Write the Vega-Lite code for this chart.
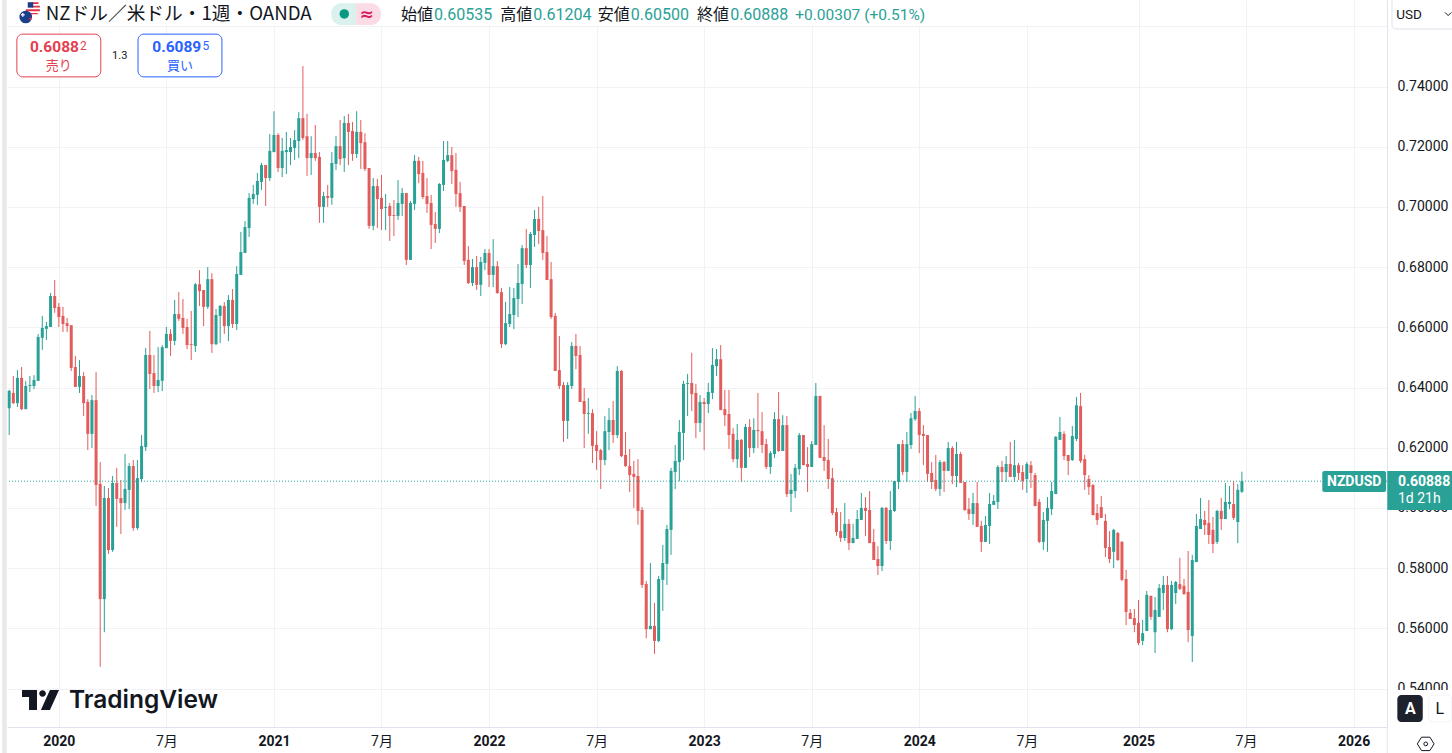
{
"$schema":"https://vega.github.io/schema/vega-lite/v6.json",
"width":1380,"height":727,
"autosize":{"type":"none"},
"padding":{"left":7,"top":0,"right":65,"bottom":26},
"background":"#ffffff",
"config":{"view":{"stroke":null},"text":{"font":"Roboto, Noto Sans CJK JP","baseline":"alphabetic"}},
"datasets":{"candles":[
{"date":"2019-10-14","open":0.6331,"high":0.6392,"low":0.6242,"close":0.6389},
{"date":"2019-10-21","open":0.6382,"high":0.6438,"low":0.6345,"close":0.6348},
{"date":"2019-10-28","open":0.6348,"high":0.6458,"low":0.6335,"close":0.6432},
{"date":"2019-11-04","open":0.6432,"high":0.6468,"low":0.6325,"close":0.6328},
{"date":"2019-11-11","open":0.6328,"high":0.6422,"low":0.6328,"close":0.6405},
{"date":"2019-11-18","open":0.6405,"high":0.6438,"low":0.6385,"close":0.6408},
{"date":"2019-11-25","open":0.6405,"high":0.6441,"low":0.6395,"close":0.6425},
{"date":"2019-12-02","open":0.6422,"high":0.6578,"low":0.6422,"close":0.6568},
{"date":"2019-12-09","open":0.6565,"high":0.6638,"low":0.6525,"close":0.6598},
{"date":"2019-12-16","open":0.6595,"high":0.6618,"low":0.6558,"close":0.6604},
{"date":"2019-12-23","open":0.6601,"high":0.6714,"low":0.6601,"close":0.6704},
{"date":"2019-12-30","open":0.6704,"high":0.6757,"low":0.6648,"close":0.6664},
{"date":"2020-01-06","open":0.6668,"high":0.6681,"low":0.6601,"close":0.6634},
{"date":"2020-01-13","open":0.6638,"high":0.6668,"low":0.6584,"close":0.6611},
{"date":"2020-01-20","open":0.6614,"high":0.6631,"low":0.6584,"close":0.6604},
{"date":"2020-01-27","open":0.6607,"high":0.6607,"low":0.6455,"close":0.6465},
{"date":"2020-02-03","open":0.6468,"high":0.6505,"low":0.6402,"close":0.6402},
{"date":"2020-02-10","open":0.6402,"high":0.6491,"low":0.6382,"close":0.6438},
{"date":"2020-02-17","open":0.6438,"high":0.6451,"low":0.6305,"close":0.6348},
{"date":"2020-02-24","open":0.6352,"high":0.6361,"low":0.6192,"close":0.6246},
{"date":"2020-03-02","open":0.6246,"high":0.6375,"low":0.6199,"close":0.6358},
{"date":"2020-03-09","open":0.6358,"high":0.6451,"low":0.6006,"close":0.6076},
{"date":"2020-03-16","open":0.608,"high":0.6152,"low":0.5472,"close":0.5697},
{"date":"2020-03-23","open":0.5697,"high":0.6073,"low":0.5587,"close":0.6033},
{"date":"2020-03-30","open":0.6033,"high":0.6066,"low":0.5847,"close":0.586},
{"date":"2020-04-06","open":0.586,"high":0.6106,"low":0.5854,"close":0.6083},
{"date":"2020-04-13","open":0.6083,"high":0.6133,"low":0.5937,"close":0.603},
{"date":"2020-04-20","open":0.6033,"high":0.6093,"low":0.5913,"close":0.6016},
{"date":"2020-04-27","open":0.6016,"high":0.6179,"low":0.5993,"close":0.6063},
{"date":"2020-05-04","open":0.606,"high":0.6149,"low":0.5996,"close":0.6139},
{"date":"2020-05-11","open":0.6139,"high":0.6159,"low":0.5924,"close":0.5933},
{"date":"2020-05-18","open":0.5933,"high":0.6159,"low":0.5927,"close":0.6099},
{"date":"2020-05-25","open":0.6096,"high":0.6242,"low":0.6086,"close":0.6206},
{"date":"2020-06-01","open":0.6202,"high":0.6531,"low":0.6189,"close":0.6508},
{"date":"2020-06-08","open":0.6508,"high":0.6588,"low":0.6395,"close":0.6445},
{"date":"2020-06-15","open":0.6448,"high":0.6508,"low":0.6382,"close":0.6405},
{"date":"2020-06-22","open":0.6405,"high":0.6534,"low":0.6385,"close":0.6425},
{"date":"2020-06-29","open":0.6422,"high":0.6541,"low":0.6388,"close":0.6534},
{"date":"2020-07-06","open":0.6531,"high":0.6601,"low":0.6531,"close":0.6578},
{"date":"2020-07-13","open":0.6578,"high":0.6594,"low":0.6505,"close":0.6555},
{"date":"2020-07-20","open":0.6555,"high":0.6691,"low":0.6541,"close":0.6644},
{"date":"2020-07-27","open":0.6644,"high":0.6717,"low":0.6621,"close":0.6628},
{"date":"2020-08-03","open":0.6631,"high":0.6694,"low":0.6578,"close":0.6598},
{"date":"2020-08-10","open":0.6601,"high":0.6628,"low":0.6528,"close":0.6541},
{"date":"2020-08-17","open":0.6544,"high":0.6654,"low":0.6491,"close":0.6541},
{"date":"2020-08-24","open":0.6538,"high":0.6747,"low":0.6518,"close":0.6743},
{"date":"2020-08-31","open":0.6743,"high":0.679,"low":0.6671,"close":0.672},
{"date":"2020-09-07","open":0.6724,"high":0.6724,"low":0.6604,"close":0.6668},
{"date":"2020-09-14","open":0.6668,"high":0.68,"low":0.6661,"close":0.676},
{"date":"2020-09-21","open":0.676,"high":0.678,"low":0.6515,"close":0.6544},
{"date":"2020-09-28","open":0.6544,"high":0.6661,"low":0.6541,"close":0.6641},
{"date":"2020-10-05","open":0.6638,"high":0.6674,"low":0.6548,"close":0.6671},
{"date":"2020-10-12","open":0.6671,"high":0.6684,"low":0.6578,"close":0.6604},
{"date":"2020-10-19","open":0.6604,"high":0.6707,"low":0.6554,"close":0.6691},
{"date":"2020-10-26","open":0.6691,"high":0.6727,"low":0.6598,"close":0.6611},
{"date":"2020-11-02","open":0.6611,"high":0.6803,"low":0.6591,"close":0.6777},
{"date":"2020-11-09","open":0.6774,"high":0.6917,"low":0.6774,"close":0.685},
{"date":"2020-11-16","open":0.6847,"high":0.6953,"low":0.6847,"close":0.6933},
{"date":"2020-11-23","open":0.693,"high":0.7046,"low":0.69,"close":0.703},
{"date":"2020-11-30","open":0.7026,"high":0.7073,"low":0.701,"close":0.7043},
{"date":"2020-12-07","open":0.704,"high":0.7113,"low":0.7007,"close":0.7086},
{"date":"2020-12-14","open":0.7083,"high":0.7146,"low":0.7056,"close":0.7139},
{"date":"2020-12-21","open":0.7139,"high":0.7139,"low":0.7003,"close":0.7096},
{"date":"2020-12-28","open":0.7096,"high":0.7242,"low":0.7086,"close":0.7186},
{"date":"2021-01-04","open":0.7182,"high":0.7318,"low":0.7182,"close":0.7239},
{"date":"2021-01-11","open":0.7239,"high":0.7245,"low":0.7116,"close":0.7129},
{"date":"2021-01-18","open":0.7129,"high":0.7229,"low":0.7099,"close":0.7186},
{"date":"2021-01-25","open":0.7182,"high":0.7249,"low":0.7109,"close":0.7189},
{"date":"2021-02-01","open":0.7182,"high":0.7229,"low":0.7139,"close":0.7199},
{"date":"2021-02-08","open":0.7196,"high":0.7255,"low":0.7156,"close":0.7222},
{"date":"2021-02-15","open":0.7219,"high":0.7315,"low":0.7162,"close":0.7295},
{"date":"2021-02-22","open":0.7295,"high":0.7468,"low":0.7222,"close":0.7229},
{"date":"2021-03-01","open":0.7235,"high":0.7309,"low":0.7103,"close":0.7162},
{"date":"2021-03-08","open":0.7162,"high":0.7235,"low":0.7106,"close":0.7179},
{"date":"2021-03-15","open":0.7179,"high":0.7272,"low":0.7153,"close":0.7162},
{"date":"2021-03-22","open":0.7166,"high":0.7182,"low":0.6947,"close":0.7},
{"date":"2021-03-29","open":0.7,"high":0.705,"low":0.6947,"close":0.7036},
{"date":"2021-04-05","open":0.7036,"high":0.7073,"low":0.7,"close":0.703},
{"date":"2021-04-12","open":0.703,"high":0.7182,"low":0.7007,"close":0.7146},
{"date":"2021-04-19","open":0.7143,"high":0.7235,"low":0.7123,"close":0.7202},
{"date":"2021-04-26","open":0.7202,"high":0.7289,"low":0.7139,"close":0.7159},
{"date":"2021-05-03","open":0.7162,"high":0.7302,"low":0.7116,"close":0.7279},
{"date":"2021-05-10","open":0.7279,"high":0.7309,"low":0.7139,"close":0.7249},
{"date":"2021-05-17","open":0.7252,"high":0.7282,"low":0.7153,"close":0.7176},
{"date":"2021-05-24","open":0.7176,"high":0.7318,"low":0.7162,"close":0.7249},
{"date":"2021-05-31","open":0.7249,"high":0.7289,"low":0.7126,"close":0.7212},
{"date":"2021-06-07","open":0.7215,"high":0.7245,"low":0.7119,"close":0.7126},
{"date":"2021-06-14","open":0.7129,"high":0.7129,"low":0.6927,"close":0.6937},
{"date":"2021-06-21","open":0.6937,"high":0.7096,"low":0.6923,"close":0.7069},
{"date":"2021-06-28","open":0.7069,"high":0.7093,"low":0.693,"close":0.7026},
{"date":"2021-07-05","open":0.703,"high":0.7106,"low":0.6923,"close":0.6993},
{"date":"2021-07-12","open":0.6997,"high":0.7043,"low":0.6923,"close":0.7},
{"date":"2021-07-19","open":0.7003,"high":0.7013,"low":0.6887,"close":0.697},
{"date":"2021-07-26","open":0.6973,"high":0.7023,"low":0.6903,"close":0.697},
{"date":"2021-08-02","open":0.697,"high":0.7089,"low":0.6957,"close":0.7013},
{"date":"2021-08-09","open":0.701,"high":0.7063,"low":0.697,"close":0.7046},
{"date":"2021-08-16","open":0.7046,"high":0.7046,"low":0.6807,"close":0.6824},
{"date":"2021-08-23","open":0.6824,"high":0.702,"low":0.6824,"close":0.7013},
{"date":"2021-08-30","open":0.701,"high":0.7172,"low":0.699,"close":0.7153},
{"date":"2021-09-06","open":0.7153,"high":0.7166,"low":0.7079,"close":0.7109},
{"date":"2021-09-13","open":0.7113,"high":0.7153,"low":0.7026,"close":0.7033},
{"date":"2021-09-20","open":0.7036,"high":0.7096,"low":0.698,"close":0.701},
{"date":"2021-09-27","open":0.7013,"high":0.704,"low":0.686,"close":0.694},
{"date":"2021-10-04","open":0.6943,"high":0.6983,"low":0.688,"close":0.6927},
{"date":"2021-10-11","open":0.6927,"high":0.7079,"low":0.6913,"close":0.7076},
{"date":"2021-10-18","open":0.7073,"high":0.7219,"low":0.7053,"close":0.7156},
{"date":"2021-10-25","open":0.7153,"high":0.7219,"low":0.7149,"close":0.7172},
{"date":"2021-11-01","open":0.7172,"high":0.7199,"low":0.7076,"close":0.7119},
{"date":"2021-11-08","open":0.7123,"high":0.7179,"low":0.7,"close":0.7043},
{"date":"2021-11-15","open":0.7046,"high":0.7083,"low":0.6983,"close":0.7},
{"date":"2021-11-22","open":0.7003,"high":0.7003,"low":0.6807,"close":0.682},
{"date":"2021-11-29","open":0.6824,"high":0.687,"low":0.6744,"close":0.6747},
{"date":"2021-12-06","open":0.6747,"high":0.6827,"low":0.6737,"close":0.68},
{"date":"2021-12-13","open":0.68,"high":0.6837,"low":0.6724,"close":0.6741},
{"date":"2021-12-20","open":0.6741,"high":0.6834,"low":0.6704,"close":0.6817},
{"date":"2021-12-27","open":0.6814,"high":0.686,"low":0.679,"close":0.6847},
{"date":"2022-01-03","open":0.6847,"high":0.686,"low":0.6734,"close":0.6774},
{"date":"2022-01-10","open":0.6774,"high":0.6893,"low":0.6734,"close":0.6803},
{"date":"2022-01-17","open":0.6803,"high":0.682,"low":0.6711,"close":0.6714},
{"date":"2022-01-24","open":0.6717,"high":0.6731,"low":0.6531,"close":0.6544},
{"date":"2022-01-31","open":0.6544,"high":0.6684,"low":0.6541,"close":0.6614},
{"date":"2022-02-07","open":0.6611,"high":0.6734,"low":0.6601,"close":0.6644},
{"date":"2022-02-14","open":0.6641,"high":0.6731,"low":0.6594,"close":0.6697},
{"date":"2022-02-21","open":0.6694,"high":0.681,"low":0.6634,"close":0.6747},
{"date":"2022-02-28","open":0.6744,"high":0.6873,"low":0.6677,"close":0.6863},
{"date":"2022-03-07","open":0.6863,"high":0.6927,"low":0.6797,"close":0.6807},
{"date":"2022-03-14","open":0.6807,"high":0.6917,"low":0.6731,"close":0.691},
{"date":"2022-03-21","open":0.6907,"high":0.699,"low":0.6867,"close":0.696},
{"date":"2022-03-28","open":0.696,"high":0.7,"low":0.6877,"close":0.692},
{"date":"2022-04-04","open":0.6923,"high":0.7036,"low":0.6824,"close":0.6847},
{"date":"2022-04-11","open":0.685,"high":0.6903,"low":0.6757,"close":0.6757},
{"date":"2022-04-18","open":0.676,"high":0.6817,"low":0.6628,"close":0.6634},
{"date":"2022-04-25","open":0.6638,"high":0.6648,"low":0.6455,"close":0.6455},
{"date":"2022-05-02","open":0.6458,"high":0.6571,"low":0.6395,"close":0.6405},
{"date":"2022-05-09","open":0.6408,"high":0.6418,"low":0.6219,"close":0.6289},
{"date":"2022-05-16","open":0.6289,"high":0.6418,"low":0.6229,"close":0.6408},
{"date":"2022-05-23","open":0.6405,"high":0.6551,"low":0.6395,"close":0.6538},
{"date":"2022-05-30","open":0.6538,"high":0.6578,"low":0.6461,"close":0.6505},
{"date":"2022-06-06","open":0.6508,"high":0.6538,"low":0.6352,"close":0.6352},
{"date":"2022-06-13","open":0.6355,"high":0.6398,"low":0.6199,"close":0.6312},
{"date":"2022-06-20","open":0.6312,"high":0.6365,"low":0.6246,"close":0.6315},
{"date":"2022-06-27","open":0.6315,"high":0.6328,"low":0.6149,"close":0.6206},
{"date":"2022-07-04","open":0.6209,"high":0.6255,"low":0.6126,"close":0.6189},
{"date":"2022-07-11","open":0.6192,"high":0.6196,"low":0.6063,"close":0.6159},
{"date":"2022-07-18","open":0.6159,"high":0.6305,"low":0.6142,"close":0.6255},
{"date":"2022-07-25","open":0.6252,"high":0.6332,"low":0.6192,"close":0.6292},
{"date":"2022-08-01","open":0.6292,"high":0.6355,"low":0.6216,"close":0.6242},
{"date":"2022-08-08","open":0.6242,"high":0.6471,"low":0.6232,"close":0.6455},
{"date":"2022-08-15","open":0.6455,"high":0.6458,"low":0.6169,"close":0.6172},
{"date":"2022-08-22","open":0.6176,"high":0.6252,"low":0.6136,"close":0.6139},
{"date":"2022-08-29","open":0.6139,"high":0.6196,"low":0.6053,"close":0.6109},
{"date":"2022-09-05","open":0.6113,"high":0.6156,"low":0.6,"close":0.6103},
{"date":"2022-09-12","open":0.6106,"high":0.6162,"low":0.5944,"close":0.599},
{"date":"2022-09-19","open":0.5993,"high":0.6003,"low":0.5734,"close":0.5744},
{"date":"2022-09-26","open":0.5747,"high":0.5757,"low":0.5567,"close":0.5597},
{"date":"2022-10-03","open":0.5597,"high":0.5817,"low":0.5597,"close":0.5608},
{"date":"2022-10-10","open":0.5608,"high":0.5684,"low":0.5515,"close":0.5558},
{"date":"2022-10-17","open":0.5558,"high":0.5774,"low":0.5554,"close":0.5764},
{"date":"2022-10-24","open":0.5761,"high":0.5877,"low":0.5658,"close":0.5817},
{"date":"2022-10-31","open":0.5814,"high":0.5943,"low":0.5744,"close":0.593},
{"date":"2022-11-07","open":0.5927,"high":0.6133,"low":0.5844,"close":0.6123},
{"date":"2022-11-14","open":0.6119,"high":0.6209,"low":0.6063,"close":0.6156},
{"date":"2022-11-21","open":0.6152,"high":0.6292,"low":0.6089,"close":0.6252},
{"date":"2022-11-28","open":0.6249,"high":0.6422,"low":0.6159,"close":0.6412},
{"date":"2022-12-05","open":0.6412,"high":0.6445,"low":0.6305,"close":0.6415},
{"date":"2022-12-12","open":0.6415,"high":0.6515,"low":0.6322,"close":0.6378},
{"date":"2022-12-19","open":0.6382,"high":0.6412,"low":0.6232,"close":0.6282},
{"date":"2022-12-26","open":0.6282,"high":0.6375,"low":0.6252,"close":0.6352},
{"date":"2023-01-02","open":0.6352,"high":0.6365,"low":0.6192,"close":0.6345},
{"date":"2023-01-09","open":0.6345,"high":0.6415,"low":0.6315,"close":0.6385},
{"date":"2023-01-16","open":0.6382,"high":0.6531,"low":0.6361,"close":0.6475},
{"date":"2023-01-23","open":0.6471,"high":0.6528,"low":0.6438,"close":0.6494},
{"date":"2023-01-30","open":0.6494,"high":0.6541,"low":0.6325,"close":0.6325},
{"date":"2023-02-06","open":0.6328,"high":0.6392,"low":0.6272,"close":0.6308},
{"date":"2023-02-13","open":0.6312,"high":0.6392,"low":0.6196,"close":0.6242},
{"date":"2023-02-20","open":0.6246,"high":0.6265,"low":0.6152,"close":0.6162},
{"date":"2023-02-27","open":0.6162,"high":0.6279,"low":0.6133,"close":0.6226},
{"date":"2023-03-06","open":0.6226,"high":0.6229,"low":0.6086,"close":0.6133},
{"date":"2023-03-13","open":0.6133,"high":0.6279,"low":0.6133,"close":0.6269},
{"date":"2023-03-20","open":0.6269,"high":0.6295,"low":0.6169,"close":0.6199},
{"date":"2023-03-27","open":0.6199,"high":0.6298,"low":0.6182,"close":0.6259},
{"date":"2023-04-03","open":0.6259,"high":0.6382,"low":0.6199,"close":0.6255},
{"date":"2023-04-10","open":0.6255,"high":0.6318,"low":0.6182,"close":0.6209},
{"date":"2023-04-17","open":0.6212,"high":0.6229,"low":0.6129,"close":0.6136},
{"date":"2023-04-24","open":0.6136,"high":0.6189,"low":0.6113,"close":0.6182},
{"date":"2023-05-01","open":0.6179,"high":0.6318,"low":0.6166,"close":0.6295},
{"date":"2023-05-08","open":0.6295,"high":0.6385,"low":0.6186,"close":0.6189},
{"date":"2023-05-15","open":0.6189,"high":0.6308,"low":0.6189,"close":0.6275},
{"date":"2023-05-22","open":0.6275,"high":0.6305,"low":0.6036,"close":0.6046},
{"date":"2023-05-29","open":0.6046,"high":0.6113,"low":0.5986,"close":0.606},
{"date":"2023-06-05","open":0.6056,"high":0.6146,"low":0.6033,"close":0.6133},
{"date":"2023-06-12","open":0.6129,"high":0.6249,"low":0.6109,"close":0.6242},
{"date":"2023-06-19","open":0.6242,"high":0.6242,"low":0.6142,"close":0.6142},
{"date":"2023-06-26","open":0.6146,"high":0.6202,"low":0.6053,"close":0.6136},
{"date":"2023-07-03","open":0.6136,"high":0.6222,"low":0.6136,"close":0.6212},
{"date":"2023-07-10","open":0.6209,"high":0.6415,"low":0.6209,"close":0.6372},
{"date":"2023-07-17","open":0.6372,"high":0.6372,"low":0.6166,"close":0.6166},
{"date":"2023-07-24","open":0.6169,"high":0.6275,"low":0.6123,"close":0.6156},
{"date":"2023-07-31","open":0.6159,"high":0.6229,"low":0.6063,"close":0.6096},
{"date":"2023-08-07","open":0.6099,"high":0.6133,"low":0.5976,"close":0.5983},
{"date":"2023-08-14","open":0.5986,"high":0.6,"low":0.5907,"close":0.592},
{"date":"2023-08-21","open":0.5923,"high":0.5986,"low":0.5887,"close":0.59},
{"date":"2023-08-28","open":0.59,"high":0.6016,"low":0.589,"close":0.5947},
{"date":"2023-09-04","open":0.5947,"high":0.5963,"low":0.586,"close":0.5883},
{"date":"2023-09-11","open":0.5883,"high":0.5947,"low":0.5883,"close":0.59},
{"date":"2023-09-18","open":0.5897,"high":0.5993,"low":0.5897,"close":0.5963},
{"date":"2023-09-25","open":0.596,"high":0.605,"low":0.596,"close":0.6},
{"date":"2023-10-02","open":0.6,"high":0.6036,"low":0.5907,"close":0.599},
{"date":"2023-10-09","open":0.5993,"high":0.6056,"low":0.5883,"close":0.5883},
{"date":"2023-10-16","open":0.5887,"high":0.593,"low":0.5827,"close":0.5827},
{"date":"2023-10-23","open":0.583,"high":0.5873,"low":0.5777,"close":0.5807},
{"date":"2023-10-30","open":0.5807,"high":0.6003,"low":0.579,"close":0.6},
{"date":"2023-11-06","open":0.6,"high":0.6003,"low":0.588,"close":0.589},
{"date":"2023-11-13","open":0.589,"high":0.6056,"low":0.586,"close":0.5993},
{"date":"2023-11-20","open":0.599,"high":0.6089,"low":0.5986,"close":0.6089},
{"date":"2023-11-27","open":0.6086,"high":0.6212,"low":0.6063,"close":0.6212},
{"date":"2023-12-04","open":0.6212,"high":0.6226,"low":0.6109,"close":0.6119},
{"date":"2023-12-11","open":0.6119,"high":0.6252,"low":0.6086,"close":0.6212},
{"date":"2023-12-18","open":0.6209,"high":0.6315,"low":0.6196,"close":0.6298},
{"date":"2023-12-25","open":0.6295,"high":0.6372,"low":0.6289,"close":0.6322},
{"date":"2024-01-01","open":0.6322,"high":0.6332,"low":0.6182,"close":0.6242},
{"date":"2024-01-08","open":0.6246,"high":0.6275,"low":0.6142,"close":0.6239},
{"date":"2024-01-15","open":0.6242,"high":0.6242,"low":0.6086,"close":0.6113},
{"date":"2024-01-22","open":0.6116,"high":0.6152,"low":0.6063,"close":0.6086},
{"date":"2024-01-29","open":0.6093,"high":0.6176,"low":0.6056,"close":0.6063},
{"date":"2024-02-05","open":0.6063,"high":0.6159,"low":0.604,"close":0.6152},
{"date":"2024-02-12","open":0.6152,"high":0.6156,"low":0.6053,"close":0.6123},
{"date":"2024-02-19","open":0.6123,"high":0.6219,"low":0.6123,"close":0.6199},
{"date":"2024-02-26","open":0.6199,"high":0.6205,"low":0.6079,"close":0.6106},
{"date":"2024-03-04","open":0.6106,"high":0.6219,"low":0.6069,"close":0.6179},
{"date":"2024-03-11","open":0.6179,"high":0.6186,"low":0.6083,"close":0.6083},
{"date":"2024-03-18","open":0.6086,"high":0.6086,"low":0.599,"close":0.5993},
{"date":"2024-03-25","open":0.5996,"high":0.6033,"low":0.596,"close":0.598},
{"date":"2024-04-01","open":0.598,"high":0.605,"low":0.5943,"close":0.6016},
{"date":"2024-04-08","open":0.6016,"high":0.6086,"low":0.5937,"close":0.5937},
{"date":"2024-04-15","open":0.594,"high":0.5957,"low":0.5854,"close":0.5887},
{"date":"2024-04-22","open":0.5887,"high":0.5973,"low":0.5887,"close":0.5943},
{"date":"2024-04-29","open":0.594,"high":0.605,"low":0.588,"close":0.6013},
{"date":"2024-05-06","open":0.601,"high":0.6043,"low":0.601,"close":0.6023},
{"date":"2024-05-13","open":0.602,"high":0.6142,"low":0.5996,"close":0.6136},
{"date":"2024-05-20","open":0.6136,"high":0.6156,"low":0.6086,"close":0.6119},
{"date":"2024-05-27","open":0.6119,"high":0.6172,"low":0.6086,"close":0.6146},
{"date":"2024-06-03","open":0.6146,"high":0.6219,"low":0.6103,"close":0.6103},
{"date":"2024-06-10","open":0.6103,"high":0.6226,"low":0.6086,"close":0.6142},
{"date":"2024-06-17","open":0.6142,"high":0.6149,"low":0.6093,"close":0.6116},
{"date":"2024-06-24","open":0.6119,"high":0.6142,"low":0.606,"close":0.6089},
{"date":"2024-07-01","open":0.6096,"high":0.6152,"low":0.605,"close":0.6146},
{"date":"2024-07-08","open":0.6142,"high":0.6156,"low":0.6066,"close":0.6116},
{"date":"2024-07-15","open":0.6109,"high":0.6116,"low":0.6006,"close":0.6006},
{"date":"2024-07-22","open":0.602,"high":0.603,"low":0.5883,"close":0.5887},
{"date":"2024-07-29","open":0.5887,"high":0.5986,"low":0.586,"close":0.596},
{"date":"2024-08-05","open":0.5957,"high":0.6036,"low":0.5854,"close":0.6},
{"date":"2024-08-12","open":0.5996,"high":0.6086,"low":0.5976,"close":0.6056},
{"date":"2024-08-19","open":0.6046,"high":0.6239,"low":0.6046,"close":0.6236},
{"date":"2024-08-26","open":0.6226,"high":0.6302,"low":0.6226,"close":0.6252},
{"date":"2024-09-02","open":0.6246,"high":0.6255,"low":0.6159,"close":0.6172},
{"date":"2024-09-09","open":0.6176,"high":0.6176,"low":0.6109,"close":0.6156},
{"date":"2024-09-16","open":0.6159,"high":0.6272,"low":0.6156,"close":0.6239},
{"date":"2024-09-23","open":0.6229,"high":0.6369,"low":0.6222,"close":0.6341},
{"date":"2024-09-30","open":0.6338,"high":0.6382,"low":0.6149,"close":0.6156},
{"date":"2024-10-07","open":0.6162,"high":0.6176,"low":0.606,"close":0.6109},
{"date":"2024-10-14","open":0.6096,"high":0.6109,"low":0.6043,"close":0.6069},
{"date":"2024-10-21","open":0.6076,"high":0.6079,"low":0.5976,"close":0.5976},
{"date":"2024-10-28","open":0.5983,"high":0.6013,"low":0.5943,"close":0.596},
{"date":"2024-11-04","open":0.6003,"high":0.604,"low":0.5967,"close":0.5967},
{"date":"2024-11-11","open":0.5957,"high":0.598,"low":0.5837,"close":0.5867},
{"date":"2024-11-18","open":0.587,"high":0.5923,"low":0.5817,"close":0.583},
{"date":"2024-11-25","open":0.5854,"high":0.593,"low":0.58,"close":0.5927},
{"date":"2024-12-02","open":0.5917,"high":0.592,"low":0.5824,"close":0.5827},
{"date":"2024-12-09","open":0.5887,"high":0.589,"low":0.5757,"close":0.5761},
{"date":"2024-12-16","open":0.5764,"high":0.5794,"low":0.5611,"close":0.5654},
{"date":"2024-12-23","open":0.5651,"high":0.5664,"low":0.5631,"close":0.5631},
{"date":"2024-12-30","open":0.5634,"high":0.5664,"low":0.5587,"close":0.5611},
{"date":"2025-01-06","open":0.5618,"high":0.5694,"low":0.5544,"close":0.5551},
{"date":"2025-01-13","open":0.5558,"high":0.5628,"low":0.5544,"close":0.5584},
{"date":"2025-01-20","open":0.5591,"high":0.5724,"low":0.5591,"close":0.5711},
{"date":"2025-01-27","open":0.5708,"high":0.5708,"low":0.5628,"close":0.5638},
{"date":"2025-02-03","open":0.5587,"high":0.5704,"low":0.5518,"close":0.5661},
{"date":"2025-02-10","open":0.5638,"high":0.5747,"low":0.5638,"close":0.5734},
{"date":"2025-02-17","open":0.5717,"high":0.5774,"low":0.5661,"close":0.5744},
{"date":"2025-02-24","open":0.5744,"high":0.5774,"low":0.5587,"close":0.5597},
{"date":"2025-03-03","open":0.5597,"high":0.5757,"low":0.5594,"close":0.5744},
{"date":"2025-03-10","open":0.5717,"high":0.5757,"low":0.5681,"close":0.5754},
{"date":"2025-03-17","open":0.5747,"high":0.5834,"low":0.5727,"close":0.5731},
{"date":"2025-03-24","open":0.5741,"high":0.5764,"low":0.5711,"close":0.5714},
{"date":"2025-03-31","open":0.5721,"high":0.5857,"low":0.5554,"close":0.5594},
{"date":"2025-04-07","open":0.5574,"high":0.5844,"low":0.5488,"close":0.5827},
{"date":"2025-04-14","open":0.582,"high":0.598,"low":0.582,"close":0.594},
{"date":"2025-04-21","open":0.593,"high":0.6033,"low":0.593,"close":0.5963},
{"date":"2025-04-28","open":0.596,"high":0.599,"low":0.591,"close":0.5943},
{"date":"2025-05-05","open":0.595,"high":0.6026,"low":0.588,"close":0.591},
{"date":"2025-05-12","open":0.5927,"high":0.597,"low":0.585,"close":0.588},
{"date":"2025-05-19","open":0.5887,"high":0.5993,"low":0.588,"close":0.599},
{"date":"2025-05-26","open":0.599,"high":0.6033,"low":0.5927,"close":0.5963},
{"date":"2025-06-02","open":0.5963,"high":0.6083,"low":0.5963,"close":0.602},
{"date":"2025-06-09","open":0.6013,"high":0.6073,"low":0.5996,"close":0.602},
{"date":"2025-06-16","open":0.6013,"high":0.6089,"low":0.596,"close":0.5967},
{"date":"2025-06-23","open":0.5953,"high":0.6079,"low":0.5883,"close":0.606},
{"date":"2025-06-30","open":0.60535,"high":0.61204,"low":0.605,"close":0.60888}
]},
"data":{"values":[{}]},
"layer":[
{"data":{"name":"candles"},"mark":{"type":"rule","strokeWidth":1},
 "encoding":{
  "x":{"field":"date","type":"temporal","title":null,
   "scale":{"type":"utc","padding":0,"domain":[{"year":2019,"month":10,"date":10,"hours":7,"utc":true},{"year":2026,"month":3,"date":2,"hours":12,"utc":true}]},
   "axis":{"values":[{"year":2020,"month":1,"date":6,"utc":true},{"year":2020,"month":7,"date":6,"utc":true},{"year":2021,"month":1,"date":4,"utc":true},{"year":2021,"month":7,"date":5,"utc":true},{"year":2022,"month":1,"date":3,"utc":true},{"year":2022,"month":7,"date":4,"utc":true},{"year":2023,"month":1,"date":2,"utc":true},{"year":2023,"month":7,"date":3,"utc":true},{"year":2024,"month":1,"date":1,"utc":true},{"year":2024,"month":7,"date":1,"utc":true},{"year":2025,"month":1,"date":6,"utc":true},{"year":2025,"month":7,"date":7,"utc":true},{"year":2026,"month":1,"date":5,"utc":true}],
    "labelExpr":"utcmonth(datum.value)==0 ? utcFormat(datum.value,'%Y') : '7月'",
    "labelFontWeight":{"expr":"utcmonth(datum.value)==0 ? 'bold' : 'normal'"},
    "labelFont":"Roboto, Noto Sans CJK JP","labelFontSize":14,"labelColor":"#131722","labelPadding":7,"labelOverlap":false,
    "grid":true,"gridColor":"#f1f2f5","gridWidth":1,"tickSize":0,"domainColor":"#e0e3eb","title":null}},
  "y":{"field":"low","type":"quantitative","title":null,
   "scale":{"domain":[0.52721,0.76874],"nice":false,"zero":false},
   "axis":{"orient":"right","values":[0.54,0.56,0.58,0.6,0.62,0.64,0.66,0.68,0.7,0.72,0.74,0.76],
    "labelExpr":"datum.value>0.75 ? '' : format(datum.value,'.5f')",
    "labelFont":"Roboto","labelFontSize":14,"labelColor":"#131722","labelPadding":10,"labelOverlap":false,"labelBound":false,
    "grid":true,"gridColor":"#f1f2f5","gridWidth":1,"tickSize":0,"domainColor":"#e0e3eb","title":null}},
  "y2":{"field":"high"},
  "color":{"condition":{"test":"datum.close >= datum.open","value":"#2aa196"},"value":"#e35c5c"}}},
{"data":{"name":"candles"},"mark":{"type":"bar","size":3},
 "encoding":{
  "x":{"field":"date","type":"temporal"},
  "y":{"field":"open","type":"quantitative"},
  "y2":{"field":"close"},
  "color":{"condition":{"test":"datum.close >= datum.open","value":"#2aa196"},"value":"#e35c5c"}}},
{"mark":{"type":"rule","color":"#26a69a","strokeDash":[1,2],"strokeWidth":1},"encoding":{"y":{"datum":0.60888}}},
{"mark":{"type":"rect","color":"#e9e9e9"},"encoding":{"x":{"datum":{"year":2019,"month":10,"date":2,"utc":true},"type":"temporal"},"x2":{"datum":{"year":2019,"month":10,"date":10,"utc":true}},"y":{"datum":0.8},"y2":{"datum":0.45}}},
{"mark":{"type":"rect","color":"#ffffff"},"encoding":{"x":{"datum":{"year":2019,"month":10,"date":10,"utc":true},"type":"temporal"},"x2":{"datum":{"year":2025,"month":1,"date":1,"utc":true}},"y":{"datum":0.8},"y2":{"datum":0.7603}}},
{"mark":{"type":"rect","color":"#ffffff"},"encoding":{"x":{"datum":{"year":2026,"month":3,"date":5,"utc":true},"type":"temporal"},"x2":{"datum":{"year":2026,"month":7,"date":1,"utc":true}},"y":{"datum":0.5395},"y2":{"datum":0.5272}}},
{"mark":{"type":"rule","color":"#e0e3eb"},"encoding":{"x":{"datum":{"year":2026,"month":3,"date":3,"utc":true},"type":"temporal"},"y":{"datum":0.5272},"y2":{"datum":0.45}}},
{"mark":{"type":"point","filled":true,"opacity":1,"color":"#ffffff","size":150},"encoding":{"x":{"datum":{"year":2019,"month":11,"date":23,"utc":true},"type":"temporal"},"y":{"datum":0.7661}}},
{"mark":{"type":"point","filled":true,"opacity":1,"color":"#e3324a","size":200,"shape":"M-0.1,-0.8H0.8V-0.55H-0.1ZM-0.1,-0.3H1V-0.05H-0.1ZM-1,0.2H1V0.45H-1ZM-0.7,0.7H0.7V0.9H-0.7Z"},"encoding":{"x":{"datum":{"year":2019,"month":11,"date":23,"utc":true},"type":"temporal"},"y":{"datum":0.7661}}},
{"mark":{"type":"point","filled":true,"opacity":1,"color":"#1b3f8b","size":30,"shape":"square"},"encoding":{"x":{"datum":{"year":2019,"month":11,"date":19,"utc":true},"type":"temporal"},"y":{"datum":0.7671}}},
{"mark":{"type":"point","filled":true,"opacity":1,"color":"#1b3f8b","size":160,"shape":"circle"},"encoding":{"x":{"datum":{"year":2019,"month":11,"date":11,"utc":true},"type":"temporal"},"y":{"datum":0.7631}}},
{"mark":{"type":"point","filled":true,"opacity":1,"color":"#e8e8f0","size":14,"shape":"cross"},"encoding":{"x":{"datum":{"year":2019,"month":11,"date":6,"utc":true},"type":"temporal"},"y":{"datum":0.7638}}},
{"mark":{"type":"point","filled":true,"opacity":1,"color":"#e3324a","size":6,"shape":"circle"},"encoding":{"x":{"datum":{"year":2019,"month":11,"date":19,"utc":true},"type":"temporal"},"y":{"datum":0.7625}}},
{"mark":{"type":"text","align":"left","fontSize":18.7,"color":"#131722","font":"Noto Sans CJK JP"},"encoding":{"x":{"datum":{"year":2019,"month":12,"date":15,"utc":true},"type":"temporal"},"y":{"datum":0.7621},"text":{"value":"NZドル／米ドル・1週・OANDA"}}},
{"mark":{"type":"rect","color":"#daf1ee","cornerRadiusTopLeft":10,"cornerRadiusBottomLeft":10},"encoding":{"x":{"datum":{"year":2021,"month":4,"date":11,"utc":true},"type":"temporal"},"x2":{"datum":{"year":2021,"month":5,"date":23,"utc":true}},"y":{"datum":0.7677},"y2":{"datum":0.7604}}},
{"mark":{"type":"rect","color":"#fbdce6","cornerRadiusTopRight":10,"cornerRadiusBottomRight":10},"encoding":{"x":{"datum":{"year":2021,"month":5,"date":23,"utc":true},"type":"temporal"},"x2":{"datum":{"year":2021,"month":7,"date":4,"utc":true}},"y":{"datum":0.7677},"y2":{"datum":0.7604}}},
{"mark":{"type":"point","filled":true,"opacity":1,"color":"#089981","size":90,"shape":"circle"},"encoding":{"x":{"datum":{"year":2021,"month":5,"date":3,"utc":true},"type":"temporal"},"y":{"datum":0.7641}}},
{"mark":{"type":"text","fontSize":17,"fontWeight":"bold","color":"#d81b60","font":"DejaVu Sans"},"encoding":{"x":{"datum":{"year":2021,"month":6,"date":10,"utc":true},"type":"temporal"},"y":{"datum":0.7621},"text":{"value":"≈"}}},
{"mark":{"type":"text","align":"left","fontSize":16,"color":"#131722","font":"Noto Sans CJK JP"},"encoding":{"x":{"datum":{"year":2021,"month":8,"date":7,"utc":true},"type":"temporal"},"y":{"datum":0.7621},"text":{"value":"始値"}}},
{"mark":{"type":"text","align":"left","fontSize":16,"color":"#2aa196"},"encoding":{"x":{"datum":{"year":2021,"month":10,"date":2,"utc":true},"type":"temporal"},"y":{"datum":0.7621},"text":{"value":"0.60535"}}},
{"mark":{"type":"text","align":"left","fontSize":16,"color":"#131722","font":"Noto Sans CJK JP"},"encoding":{"x":{"datum":{"year":2022,"month":1,"date":22,"utc":true},"type":"temporal"},"y":{"datum":0.7621},"text":{"value":"高値"}}},
{"mark":{"type":"text","align":"left","fontSize":16,"color":"#2aa196"},"encoding":{"x":{"datum":{"year":2022,"month":3,"date":19,"utc":true},"type":"temporal"},"y":{"datum":0.7621},"text":{"value":"0.61204"}}},
{"mark":{"type":"text","align":"left","fontSize":16,"color":"#131722","font":"Noto Sans CJK JP"},"encoding":{"x":{"datum":{"year":2022,"month":7,"date":6,"utc":true},"type":"temporal"},"y":{"datum":0.7621},"text":{"value":"安値"}}},
{"mark":{"type":"text","align":"left","fontSize":16,"color":"#2aa196"},"encoding":{"x":{"datum":{"year":2022,"month":8,"date":31,"utc":true},"type":"temporal"},"y":{"datum":0.7621},"text":{"value":"0.60500"}}},
{"mark":{"type":"text","align":"left","fontSize":16,"color":"#131722","font":"Noto Sans CJK JP"},"encoding":{"x":{"datum":{"year":2022,"month":12,"date":21,"utc":true},"type":"temporal"},"y":{"datum":0.7621},"text":{"value":"終値"}}},
{"mark":{"type":"text","align":"left","fontSize":16,"color":"#2aa196"},"encoding":{"x":{"datum":{"year":2023,"month":2,"date":15,"utc":true},"type":"temporal"},"y":{"datum":0.7621},"text":{"value":"0.60888"}}},
{"mark":{"type":"text","align":"left","fontSize":15.5,"color":"#2aa196"},"encoding":{"x":{"datum":{"year":2023,"month":6,"date":5,"utc":true},"type":"temporal"},"y":{"datum":0.7621},"text":{"value":"+0.00307 (+0.51%)"}}},
{"mark":{"type":"rect","fill":"#ffffff","stroke":"#e5404e","cornerRadius":6},"encoding":{"x":{"datum":{"year":2019,"month":10,"date":27,"utc":true},"type":"temporal"},"x2":{"datum":{"year":2020,"month":3,"date":17,"utc":true}},"y":{"datum":0.7574},"y2":{"datum":0.7432}}},
{"mark":{"type":"rect","fill":"#ffffff","stroke":"#2962ff","cornerRadius":6},"encoding":{"x":{"datum":{"year":2020,"month":5,"date":19,"utc":true},"type":"temporal"},"x2":{"datum":{"year":2020,"month":10,"date":8,"utc":true}},"y":{"datum":0.7574},"y2":{"datum":0.7432}}},
{"mark":{"type":"text","align":"right","fontSize":15.5,"fontWeight":"bold","color":"#e5404e"},"encoding":{"x":{"datum":{"year":2020,"month":2,"date":9,"utc":true},"type":"temporal"},"y":{"datum":0.7515},"text":{"value":"0.6088"}}},
{"mark":{"type":"text","align":"left","fontSize":12,"color":"#e5404e"},"encoding":{"x":{"datum":{"year":2020,"month":2,"date":11,"utc":true},"type":"temporal"},"y":{"datum":0.7521},"text":{"value":"2"}}},
{"mark":{"type":"text","fontSize":13,"color":"#e5404e","font":"Noto Sans CJK JP"},"encoding":{"x":{"datum":{"year":2020,"month":1,"date":6,"utc":true},"type":"temporal"},"y":{"datum":0.7455},"text":{"value":"売り"}}},
{"mark":{"type":"text","fontSize":11,"color":"#131722"},"encoding":{"x":{"datum":{"year":2020,"month":4,"date":18,"utc":true},"type":"temporal"},"y":{"datum":0.7491},"text":{"value":"1.3"}}},
{"mark":{"type":"text","align":"right","fontSize":15.5,"fontWeight":"bold","color":"#2962ff"},"encoding":{"x":{"datum":{"year":2020,"month":9,"date":3,"utc":true},"type":"temporal"},"y":{"datum":0.7515},"text":{"value":"0.6089"}}},
{"mark":{"type":"text","align":"left","fontSize":12,"color":"#2962ff"},"encoding":{"x":{"datum":{"year":2020,"month":9,"date":5,"utc":true},"type":"temporal"},"y":{"datum":0.7521},"text":{"value":"5"}}},
{"mark":{"type":"text","fontSize":13,"color":"#2962ff","font":"Noto Sans CJK JP"},"encoding":{"x":{"datum":{"year":2020,"month":7,"date":29,"utc":true},"type":"temporal"},"y":{"datum":0.7455},"text":{"value":"買い"}}},
{"mark":{"type":"rect","fill":"#ffffff","stroke":"#e0e3eb","cornerRadius":4},"encoding":{"x":{"datum":{"year":2026,"month":3,"date":11,"utc":true},"type":"temporal"},"x2":{"datum":{"year":2026,"month":8,"date":1,"utc":true}},"y":{"datum":0.8},"y2":{"datum":0.7591}}},
{"mark":{"type":"text","align":"left","fontSize":13.5,"color":"#131722"},"encoding":{"x":{"datum":{"year":2026,"month":3,"date":18,"utc":true},"type":"temporal"},"y":{"datum":0.7624},"text":{"value":"USD"}}},
{"mark":{"type":"point","filled":false,"opacity":1,"color":"#131722","size":40,"strokeWidth":1,"shape":"M-1,-0.5L0,0.5L1,-0.5"},"encoding":{"x":{"datum":{"year":2026,"month":6,"date":14,"utc":true},"type":"temporal"},"y":{"datum":0.7641}}},
{"mark":{"type":"rect","color":"#2aa196","cornerRadius":2},"encoding":{"x":{"datum":{"year":2025,"month":11,"date":13,"utc":true},"type":"temporal"},"x2":{"datum":{"year":2026,"month":3,"date":1,"utc":true}},"y":{"datum":0.6123},"y2":{"datum":0.6053}}},
{"mark":{"type":"text","fontSize":14,"fontWeight":"bold","color":"#ffffff"},"encoding":{"x":{"datum":{"year":2026,"month":1,"date":6,"utc":true},"type":"temporal"},"y":{"datum":0.6073},"text":{"value":"NZDUSD"}}},
{"mark":{"type":"rect","color":"#2aa196"},"encoding":{"x":{"datum":{"year":2026,"month":3,"date":3,"utc":true},"type":"temporal"},"x2":{"datum":{"year":2026,"month":8,"date":1,"utc":true}},"y":{"datum":0.6123},"y2":{"datum":0.5993}}},
{"mark":{"type":"text","align":"left","fontSize":14,"fontWeight":"bold","color":"#ffffff"},"encoding":{"x":{"datum":{"year":2026,"month":3,"date":21,"utc":true},"type":"temporal"},"y":{"datum":0.6073},"text":{"value":"0.60888"}}},
{"mark":{"type":"text","align":"left","fontSize":14,"color":"#ffffff"},"encoding":{"x":{"datum":{"year":2026,"month":3,"date":21,"utc":true},"type":"temporal"},"y":{"datum":0.6016},"text":{"value":"1d 21h"}}},
{"mark":{"type":"rect","color":"#1e222d","cornerRadius":4},"encoding":{"x":{"datum":{"year":2026,"month":3,"date":20,"utc":true},"type":"temporal"},"x2":{"datum":{"year":2026,"month":5,"date":2,"utc":true}},"y":{"datum":0.5378},"y2":{"datum":0.5289}}},
{"mark":{"type":"text","fontSize":16,"fontWeight":"bold","color":"#ffffff"},"encoding":{"x":{"datum":{"year":2026,"month":4,"date":11,"utc":true},"type":"temporal"},"y":{"datum":0.5315},"text":{"value":"A"}}},
{"mark":{"type":"rect","fill":"#ffffff","stroke":"#f0f3fa","cornerRadius":4},"encoding":{"x":{"datum":{"year":2026,"month":5,"date":12,"utc":true},"type":"temporal"},"x2":{"datum":{"year":2026,"month":6,"date":20,"utc":true}},"y":{"datum":0.5378},"y2":{"datum":0.5289}}},
{"mark":{"type":"text","fontSize":16,"color":"#131722"},"encoding":{"x":{"datum":{"year":2026,"month":5,"date":31,"utc":true},"type":"temporal"},"y":{"datum":0.5315},"text":{"value":"L"}}},
{"mark":{"type":"point","filled":false,"opacity":1,"color":"#131722","size":280,"strokeWidth":1,"shape":"M-1,0L-0.5,-0.8H0.5L1,0L0.5,0.8H-0.5Z"},"encoding":{"x":{"datum":{"year":2026,"month":5,"date":7,"utc":true},"type":"temporal"},"y":{"datum":0.5216}}},
{"mark":{"type":"point","filled":false,"opacity":1,"color":"#131722","size":14,"strokeWidth":1,"shape":"circle"},"encoding":{"x":{"datum":{"year":2026,"month":5,"date":7,"utc":true},"type":"temporal"},"y":{"datum":0.5216}}},
{"mark":{"type":"point","filled":true,"opacity":1,"color":"#131722","size":1369,"shape":"M-1,-0.54H-0.19V0.54H-0.62V-0.16H-1ZM0.51,-0.54H1L0.51,0.54H0.02ZM0.29,-0.35A0.18,0.18 0 1 1 -0.07,-0.35A0.18,0.18 0 1 1 0.29,-0.35Z"},"encoding":{"x":{"datum":{"year":2019,"month":12,"date":6,"utc":true},"type":"temporal"},"y":{"datum":0.5362}}},
{"mark":{"type":"text","align":"left","fontSize":24.5,"fontWeight":600,"color":"#131722","font":"Inter"},"encoding":{"x":{"datum":{"year":2020,"month":1,"date":23,"utc":true},"type":"temporal"},"y":{"datum":0.5335},"text":{"value":"TradingView"}}}
]
}
